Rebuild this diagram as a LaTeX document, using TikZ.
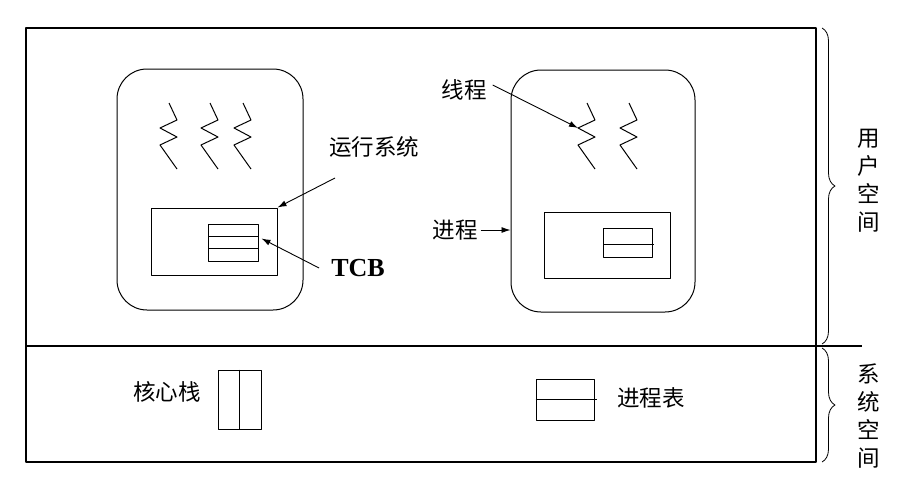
\documentclass[tikz,border=0pt]{standalone}
\usepackage{fontspec}
\setmainfont{Liberation Serif}
\newfontfamily\cjk{Noto Sans CJK SC}
\usetikzlibrary{arrows.meta,decorations.pathreplacing}

\begin{document}
\begin{tikzpicture}[
  x=1pt,y=-1pt,
  line join=round,
  frame/.style={draw=black,line width=1.2pt},
  process/.style={draw=black,line width=1pt,rounded corners=30pt,inner sep=0pt},
  box/.style={draw=black,line width=1pt,inner sep=0pt},
  thread/.style={draw=black,line width=1pt},
  pointer/.style={draw=black,line width=0.9pt,-{Latex[length=9pt,width=6pt]}},
  lbl/.style={font=\cjk\fontsize{22.5}{28}\selectfont,inner sep=0pt},
  spacebrace/.style={draw=black,line width=0.8pt,decorate,decoration={brace,amplitude=13pt}}
]
  \useasboundingbox (0,0) rectangle (913,479);

  % Whole address space, split into user part and system part.
  \draw[frame] (26,28) rectangle (816,462);
  \coordinate (splitL) at (26,346);
  \coordinate (splitR) at (862,346);
  \draw[frame] (splitL) -- (splitR);

  % Two processes with their runtime area and TCBs.
  \node[process,minimum width=186pt,minimum height=241pt] (procL) at (210,189.5) {};
  \node[box,minimum width=126pt,minimum height=67pt] (rtL) at (214,241.5) {};
  \node[box,minimum width=50pt,minimum height=37pt] (tcbL) at (233,242.5) {};
  \draw[box] (208,236.3) -- (258,236.3);
  \draw[box] (208,248.7) -- (258,248.7);

  \node[process,minimum width=184pt,minimum height=242pt] (procR) at (603,191) {};
  \node[box,minimum width=126pt,minimum height=66pt] (rtR) at (607,245) {};
  \node[box,minimum width=49pt,minimum height=29pt] (tcbR) at (627.5,242.5) {};
  \draw[box] (603,244) -- (654,244);

  % Threads are zigzags.
  \foreach \x in {169,210,243,587,629} {
    \draw[thread] (\x,103) -- ++(8,17) -- ++(-17,8) -- ++(17,9) -- ++(-17,8) -- ++(17,24);
  }
  \coordinate (thr) at (578,128);

  % Kernel stack and process table.
  \node[box,minimum width=43pt,minimum height=59pt] (kstack) at (239.5,399.5) {};
  \draw[box] (kstack.north) -- (kstack.south);
  \node[box,minimum width=58pt,minimum height=41pt] (ptable) at (565,399.5) {};
  \draw[box] (ptable.west) -- ([xshift=2pt]ptable.east);

  % Labels.
  \node[lbl] (rts) at (374,147) {运行系统};
  \node[font=\bfseries\fontsize{26}{28}\selectfont,inner sep=0pt] (tcb) at (358,268) {TCB};
  \node[lbl] (xc) at (464,90) {线程};
  \node[lbl] (jc) at (455,230) {进程};
  \node[lbl] (hxz) at (167,392) {核心栈};
  \node[lbl] (jcb) at (651,398) {进程表};

  % Pointers.
  \coordinate (rtsfoot) at (335,178);
  \draw[pointer] (rtsfoot) -- (rtL.north east);
  \draw[pointer] ([xshift=-12pt]tcb.west) -- ([xshift=3pt,yshift=4pt]tcbL.east);
  \draw[pointer] ([xshift=6pt,yshift=5pt]xc.east) -- (thr);
  \draw[pointer] ([xshift=3pt]jc.east) -- (procR.west |- jc.east);

  % Braces on the right.
  \draw[spacebrace] (822,28) -- (822,344);
  \draw[spacebrace] (822,348) -- (822,462);
  \node[lbl,align=center] (user) at (869,181) {用\\户\\空\\间};
  \node[lbl,align=center] (sys) at (869,416) {系\\统\\空\\间};
\end{tikzpicture}
\end{document}
